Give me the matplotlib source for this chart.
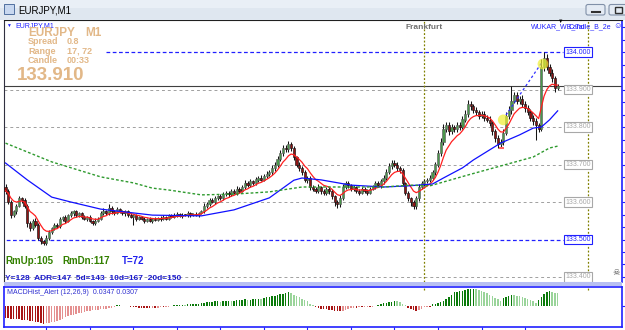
import numpy as np
import pandas as pd
import matplotlib
matplotlib.use('Agg')
import matplotlib.pyplot as plt
from matplotlib.patches import Rectangle, FancyBboxPatch

plt.rcParams['font.family'] = ['Liberation Sans', 'DejaVu Sans']

# EURJPY M1 candles (close prices), open of first bar
open_first = 133.640
closes = [
    133.630, 133.600, 133.565, 133.575, 133.590, 133.610, 133.605, 133.590, 133.545, 133.530,
    133.550, 133.540, 133.505, 133.495, 133.490, 133.505, 133.520, 133.530, 133.540, 133.535,
    133.555, 133.560, 133.550, 133.565, 133.570, 133.575, 133.565, 133.570, 133.560, 133.555,
    133.560, 133.550, 133.545, 133.550, 133.555, 133.570, 133.575, 133.570, 133.585, 133.575,
    133.570, 133.580, 133.575, 133.570, 133.575, 133.565, 133.560, 133.565, 133.555, 133.560,
    133.555, 133.550, 133.555, 133.550, 133.555, 133.552, 133.558, 133.555, 133.560, 133.555,
    133.565, 133.560, 133.565, 133.568, 133.562, 133.566, 133.565, 133.570, 133.565, 133.568,
    133.566, 133.570, 133.575, 133.590, 133.595, 133.605, 133.600, 133.610, 133.615, 133.610,
    133.620, 133.625, 133.620, 133.630, 133.625, 133.635, 133.630, 133.640, 133.650, 133.645,
    133.655, 133.650, 133.660, 133.665, 133.660, 133.670, 133.675, 133.680, 133.690, 133.700,
    133.715, 133.730, 133.745, 133.740, 133.755, 133.745, 133.720, 133.700, 133.690, 133.680,
    133.660, 133.665, 133.640, 133.635, 133.630, 133.640, 133.630, 133.625, 133.635, 133.630,
    133.615, 133.600, 133.595, 133.610, 133.640, 133.650, 133.645, 133.635, 133.640, 133.630,
    133.625, 133.635, 133.630, 133.625, 133.635, 133.640, 133.650, 133.645, 133.655, 133.665,
    133.680, 133.695, 133.705, 133.700, 133.690, 133.685, 133.650, 133.625, 133.610, 133.600,
    133.590, 133.610, 133.640, 133.650, 133.655, 133.660, 133.665, 133.680, 133.700, 133.730,
    133.760, 133.795, 133.805, 133.790, 133.800, 133.795, 133.805, 133.800, 133.820, 133.835,
    133.860, 133.855, 133.845, 133.840, 133.830, 133.835, 133.825, 133.820, 133.810, 133.790,
    133.770, 133.755, 133.760, 133.785, 133.830, 133.845, 133.870, 133.885, 133.870, 133.875,
    133.860, 133.850, 133.840, 133.825, 133.815, 133.805, 133.795, 133.960, 133.985, 133.960,
    133.945, 133.930, 133.905, 133.910,
]
# wick lengths in points (0.001)
upper_wick = [
    8, 5, 6, 4, 5, 7, 3, 6, 4, 5,   4, 6, 3, 5, 4, 6, 5, 3, 4, 5,
    6, 4, 5, 3, 6, 4, 5, 4, 3, 5,   4, 5, 3, 6, 4, 5, 8, 4, 10, 5,
    4, 6, 3, 5, 4, 3, 5, 4, 3, 4,   3, 4, 3, 5, 3, 4, 3, 4, 5, 3,
    4, 3, 5, 4, 3, 4, 3, 5, 4, 3,   4, 3, 5, 6, 4, 7, 5, 6, 4, 5,
    6, 5, 4, 6, 5, 7, 4, 6, 8, 5,   6, 5, 7, 4, 6, 5, 7, 6, 8, 7,
    9, 8, 7, 6, 8, 6, 5, 4, 6, 5,   6, 5, 4, 6, 5, 7, 4, 5, 6, 4,
    5, 4, 6, 8, 7, 5, 6, 4, 5, 4,   5, 4, 6, 4, 5, 6, 5, 7, 6, 8,
    7, 9, 8, 6, 7, 5, 6, 4, 5, 4,   5, 6, 8, 5, 6, 5, 7, 6, 8, 9,
    10, 12, 8, 7, 9, 6, 8, 7, 9, 10, 12, 8, 7, 9, 6, 8, 7, 6, 9, 5,
    6, 8, 7, 9, 10, 12, 40, 8, 9, 7, 10, 8, 9, 7, 6, 8, 5, 20, 15, 10,
    8, 9, 6, 4,
]
lower_wick = [
    10, 6, 8, 5, 6, 4, 7, 5, 12, 6,  5, 7, 6, 8, 6, 4, 5, 6, 4, 5,
    4, 6, 5, 4, 5, 6, 4, 5, 6, 4,    5, 4, 6, 5, 4, 3, 5, 4, 4, 6,
    4, 3, 5, 4, 6, 5, 4, 20, 5, 4,   3, 5, 4, 3, 5, 4, 3, 5, 4, 3,
    4, 3, 4, 5, 3, 4, 3, 4, 5, 3,    4, 5, 3, 4, 6, 5, 4, 5, 6, 4,
    5, 4, 6, 5, 4, 6, 5, 4, 6, 5,    6, 5, 4, 6, 5, 4, 6, 5, 7, 6,
    7, 6, 8, 7, 6, 8, 9, 7, 6, 8,    7, 8, 9, 6, 7, 5, 8, 6, 7, 9,
    8, 10, 12, 7, 6, 5, 7, 6, 5, 7,  6, 5, 7, 6, 5, 4, 6, 5, 7, 6,
    7, 6, 8, 7, 6, 9, 8, 7, 8, 10,   10, 8, 7, 6, 7, 5, 6, 5, 7, 6,
    8, 7, 9, 10, 8, 9, 7, 8, 6, 7,   8, 10, 9, 7, 8, 6, 9, 7, 8, 10,
    9, 12, 8, 7, 6, 8, 10, 7, 9, 8,  7, 9, 8, 10, 9, 40, 8, 5, 10, 9,
    8, 10, 12, 6,
]

# slower moving averages (read at bar positions)
blue_ma_idx = [0, 8, 17, 24, 35, 54, 72, 84, 97, 106, 109, 116, 127, 139, 148, 157, 161,
               168, 172, 178, 182, 189, 194, 197, 200, 203]
blue_ma_val = [133.704, 133.659, 133.613, 133.600, 133.581, 133.565, 133.563, 133.579, 133.611,
               133.658, 133.664, 133.659, 133.645, 133.640, 133.643, 133.648, 133.664,
               133.691, 133.712, 133.739, 133.757, 133.779, 133.797, 133.800, 133.819, 133.843]
green_ma_idx = [0, 17, 35, 47, 54, 60, 72, 84, 97, 109, 127, 139, 149, 156, 170, 182, 194, 200, 203]
green_ma_val = [133.757, 133.707, 133.667, 133.651, 133.637, 133.632, 133.619, 133.621, 133.627,
                133.640, 133.640, 133.640, 133.645, 133.643, 133.672, 133.696, 133.720,
                133.744, 133.749]

macd_hist = [
    -0.0334, -0.0348, -0.0361, -0.0361, -0.0375, -0.0375, -0.0389, -0.0389, -0.0403, -0.0417,
    -0.0431, -0.0445, -0.0459, -0.0487, -0.0500, -0.0487, -0.0473, -0.0459, -0.0436, -0.0417,
    -0.0389, -0.0361, -0.0320, -0.0278, -0.0264, -0.0250, -0.0236, -0.0209, -0.0195, -0.0181,
    -0.0153, -0.0139, -0.0125, -0.0117, -0.0111, -0.0097, -0.0083, -0.0078, -0.0064, -0.0050,
    -0.0028, 0.0014, 0.0014, -0.0014, -0.0014, -0.0014, -0.0028, -0.0042, -0.0042, -0.0056,
    -0.0056, -0.0056, -0.0056, -0.0061, -0.0056, -0.0056, -0.0050, -0.0042, -0.0042, -0.0033,
    -0.0028, -0.0014, 0.0014, 0.0022, 0.0028, 0.0033, 0.0028, 0.0042, 0.0042, 0.0050,
    0.0056, 0.0056, 0.0070, 0.0083, 0.0097, 0.0111, 0.0111, 0.0125, 0.0125, 0.0111,
    0.0125, 0.0139, 0.0139, 0.0125, 0.0139, 0.0153, 0.0167, 0.0167, 0.0181, 0.0167,
    0.0167, 0.0181, 0.0195, 0.0195, 0.0181, 0.0222, 0.0236, 0.0250, 0.0264, 0.0278,
    0.0292, 0.0320, 0.0334, 0.0348, 0.0370, 0.0348, 0.0306, 0.0278, 0.0236, 0.0195,
    0.0167, 0.0125, 0.0056, 0.0014, -0.0042, -0.0070, -0.0083, -0.0097, -0.0097, -0.0111,
    -0.0125, -0.0139, -0.0153, -0.0158, -0.0153, -0.0125, -0.0097, -0.0070, -0.0056, -0.0056,
    -0.0042, -0.0042, -0.0033, -0.0028, -0.0028, -0.0022, -0.0014, 0.0014, 0.0042, 0.0070,
    0.0083, 0.0097, 0.0111, 0.0139, 0.0125, 0.0097, 0.0056, 0.0014, -0.0056, -0.0083,
    -0.0111, -0.0131, -0.0111, -0.0083, -0.0042, -0.0028, -0.0028, 0.0042, 0.0056, 0.0083,
    0.0111, 0.0139, 0.0195, 0.0250, 0.0306, 0.0375, 0.0389, 0.0417, 0.0417, 0.0445,
    0.0459, 0.0473, 0.0473, 0.0459, 0.0445, 0.0403, 0.0375, 0.0353, 0.0306, 0.0264,
    0.0222, 0.0195, 0.0139, 0.0214, 0.0236, 0.0278, 0.0306, 0.0292, 0.0278, 0.0264,
    0.0250, 0.0214, 0.0195, 0.0167, 0.0139, 0.0075, 0.0167, 0.0250, 0.0334, 0.0381,
    0.0398, 0.0389, 0.0348, 0.0347,
]

grid_levels = [133.4, 133.6, 133.7, 133.8, 133.9]
user_levels = [134.0, 133.5]
user_level_start = [37, -2]
bid_price = 133.910
session_bars = [154, 214]
trend_pts_x = [184, 197]
trend_pts_y = [133.832, 133.970]
mark_x = [183, 197.6]
mark_y = [133.819, 133.968]
macd_ticks = [15, 31, 47, 63, 79, 95, 111, 127, 143, 159, 175, 191]

W, H = 625, 330
PX0, STEP = 5.5, 2.72          # pixel of first bar, bar spacing
LEFT, RIGHT = 3.5, 622.0
xlim = ((LEFT - PX0) / STEP, (RIGHT - PX0) / STEP)

fig = plt.figure(figsize=(W / 100, H / 100), dpi=100, facecolor='white')
ax = fig.add_axes([LEFT / W, (H - 282) / H, (RIGHT - LEFT) / W, (282 - 20.5) / H])
axm = fig.add_axes([LEFT / W, (H - 327) / H, (RIGHT - LEFT) / W, (327 - 286.5) / H])
top = fig.add_axes([0, 0, 1, 1], zorder=10)
top.set_xlim(0, W)
top.set_ylim(H, 0)
top.axis('off')
top.patch.set_alpha(0)

# ---- candles
c = np.array(closes)
o = np.r_[open_first, c[:-1]]
hi = np.maximum(o, c) + np.array(upper_wick) * 0.001
lo = np.minimum(o, c) - np.array(lower_wick) * 0.001
x = np.arange(len(c))
bull = c >= o
ax.vlines(x, lo, hi, color='#151515', lw=0.75, zorder=3)
body_bot = np.minimum(o, c)
body_h = np.maximum(np.abs(c - o), 0.0018)
ax.bar(x[bull], body_h[bull], bottom=body_bot[bull], width=0.8, color='#4a964a',
       edgecolor='#606060', lw=0.45, zorder=4)
ax.bar(x[~bull], body_h[~bull], bottom=body_bot[~bull], width=0.8, color='#8e1414',
       edgecolor='#141414', lw=0.45, zorder=4)

# ---- moving averages
red_ma = pd.Series(closes).ewm(span=8, adjust=False).mean()
ax.plot(x, red_ma, color='#ff2020', lw=0.9, zorder=5)
ax.plot(blue_ma_idx, blue_ma_val, color='#1010ff', lw=0.9, zorder=5)
ax.plot(green_ma_idx, green_ma_val, color='#2e9a2e', lw=1.0, ls=(0, (2, 1.5)), zorder=5)

# ---- levels
ax.hlines(grid_levels, xlim[0], 205, color='#a0a0a0', lw=0.7, ls=(0, (3, 3)), zorder=1)
for lvl, start in zip(user_levels, user_level_start):
    ax.hlines(lvl, start, 205, color='#2020ff', lw=0.9, ls=(0, (3, 2)), zorder=2)
ax.axhline(bid_price, color='#404040', lw=0.8, zorder=2)
for lvl in grid_levels:
    ax.text(210.5, lvl, f'{lvl:.3f}', ha='center', va='center', fontsize=5, color='#a8a8a8',
            bbox=dict(boxstyle='square,pad=0.2', fc='white', ec='#a8a8a8', lw=0.8), zorder=7)
for lvl in user_levels:
    ax.text(210.5, lvl, f'{lvl:.3f}', ha='center', va='center', fontsize=5, color='#2020ff',
            bbox=dict(boxstyle='square,pad=0.2', fc='white', ec='#2020ff', lw=0.8), zorder=7)
for sb in session_bars:
    ax.axvline(sb, color='#808000', lw=0.9, ls=(0, (1.5, 1.5)), zorder=2)
    axm.axvline(sb, color='#808000', lw=0.9, ls=(0, (1.5, 1.5)), ymin=0.92, zorder=2)
ax.text(session_bars[0], 1 - 7 / 261.5, 'Frankfurt', transform=ax.get_xaxis_transform(),
        ha='center', va='center', fontsize=6, fontweight='bold', color='#707070')

ax.plot(trend_pts_x, trend_pts_y, color='#3030ff', lw=0.9, ls=(0, (2, 2)), zorder=6)
ax.scatter(mark_x, mark_y, s=60, color='#eeee30', alpha=0.7, edgecolors='none', zorder=6)
ax.hlines(133.744, 181.6, 183.4, color='#ff6060', lw=1.5, zorder=6)

ax.set_xlim(*xlim)
ax.set_ylim(134 - (282 - 52) / 375, 134 + (52 - 20.5) / 375)
ax.set_xticks([])
ax.yaxis.tick_right()
ax.set_yticks(np.arange(133.4, 134.09, 0.1 / 3))
ax.tick_params(axis='y', length=3, color='#2020ff', labelright=False, direction='out')
ax.spines['bottom'].set_visible(False)
ax.spines['top'].set_color('#202020')
ax.spines['left'].set_color('#303040')
ax.spines['right'].set_color('#2020ff')
ax.spines['right'].set_linewidth(1.2)

# ---- MACD histogram
h = np.array(macd_hist)
prev = np.r_[h[0], h[:-1]]
cols = np.where(h >= 0, np.where(h >= prev, '#0a7a0a', '#9ad49a'),
                np.where(h <= prev, '#a81414', '#e49090'))
axm.bar(x, h, width=0.55, color=cols, zorder=3)
axm.set_xlim(*xlim)
axm.set_ylim(-(327 - 306) * 0.00278, (306 - 287) * 0.00278)
axm.set_xticks(macd_ticks)
axm.tick_params(axis='x', length=3, color='#2020ff', labelbottom=False, direction='out')
axm.yaxis.tick_right()
axm.set_yticks([0])
axm.tick_params(axis='y', length=3, color='#2020ff', labelright=False)
for s in axm.spines.values():
    s.set_color('#2020ff')
    s.set_linewidth(1.2)
axm.text(0.5, 0.052 - 0.0145, 'MACDHist_Alert (12,26,9)  0.0347 0.0307', fontsize=5,
         color='#3030d0', va='center', ha='left', zorder=5)

# ---- window chrome
top.add_patch(Rectangle((0, 0), W, 19.5, fc='#dfe7f0', ec='none'))
top.add_patch(Rectangle((0, 0), W, 8, fc='#e9eff6', ec='none'))
top.add_patch(Rectangle((3.5, 4), 10, 10, fc='#c8d8f0', ec='#5070a0', lw=0.7))
top.text(18, 10.5, 'EURJPY,M1', fontsize=7, color='black', va='center')
for bx in [586, 609]:
    top.add_patch(FancyBboxPatch((bx, 4.5), 19, 10.5, boxstyle='round,pad=0,rounding_size=2',
                                 fc='#e4ebf4', ec='#8090a8', lw=0.8))
top.plot([592, 600], [11.5, 11.5], color='#303030', lw=1.5)
top.add_patch(Rectangle((614.5, 7), 7, 5.5, fc='none', ec='#303030', lw=1))
top.add_patch(Rectangle((LEFT, 282.3), RIGHT - LEFT, 3.8, fc='#b8c0f2', ec='none'))

# ---- chart labels (overlaps as in the terminal)
tan = '#e2b888'
top.text(6, 25.5, '\u25bc', fontsize=3.5, color='#2020ff', va='center')
top.text(15, 25.5, 'EURJPY,M1', fontsize=5, color='#2020ff', va='center')
top.text(28, 32.5, 'EURJPY', fontsize=8.5, fontweight='bold', color=tan, va='center')
top.text(85, 32.5, 'M1', fontsize=8.5, fontweight='bold', color=tan, va='center')
for ty, lab, val in [(41.5, 'Spread', '0.8'), (51.2, 'Range', '17, 72'), (60.5, 'Candle', '00:33')]:
    top.text(28, ty, lab, fontsize=6.5, fontweight='bold', color=tan, va='center')
    top.text(67, ty, val, fontsize=6.5, fontweight='bold', color=tan, va='center')
top.text(17, 75.5, '133.910', fontsize=13.5, fontweight='bold', color=tan, va='center')

top.text(531, 27, 'WUKAR_WB_Tai', fontsize=5, color='#2020ff', va='center')
top.text(569, 27, 'Candle_B_2e', fontsize=5, color='#2020ff', va='center')
top.text(613, 27, '\u263a', fontsize=6, color='#2020ff', va='center')
top.text(561, 21.5, '\u25bc', fontsize=4, color='black', va='center', ha='center')
top.text(616, 273.5, '\u2620', fontsize=6, color='#505050', va='center', ha='center')

green_txt = '#338000'
top.text(5, 260.5, 'RmUp:105', fontsize=7, fontweight='bold', color=green_txt, va='center')
top.text(62, 260.5, 'RmDn:117', fontsize=7, fontweight='bold', color=green_txt, va='center')
top.text(122, 260.5, 'T=72', fontsize=7, fontweight='bold', color='#2020ee', va='center')
top.text(5, 279, 'Y=128  ADR=147  5d=143  10d=167  20d=150', fontsize=6, fontweight='bold',
         color='#1c1ccc', va='center')

fig.savefig('out.png', dpi=100, facecolor='white')
